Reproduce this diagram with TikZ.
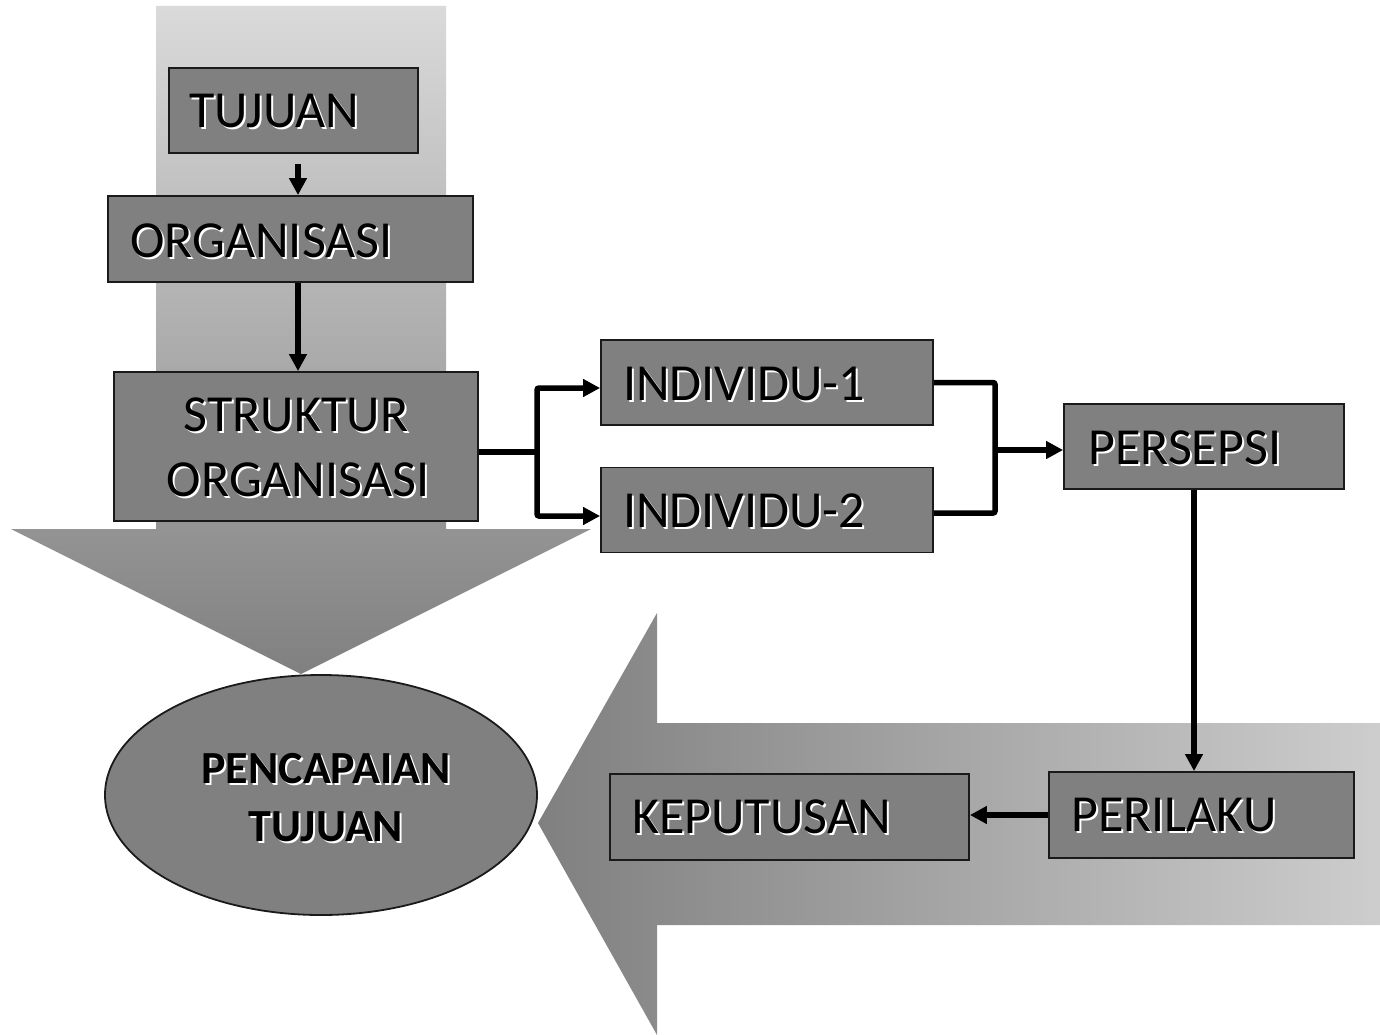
\documentclass[tikz,border=0pt]{standalone}
\usepackage{fontspec}
\setmainfont{Carlito}
\usetikzlibrary{arrows.meta,calc,shapes.geometric}
\newcommand\shd[1]{\leavevmode\rlap{\kern2pt\raisebox{-2pt}{\color{white}#1}}#1}
\definecolor{boxgray}{HTML}{808080}
\definecolor{bordergray}{HTML}{1A1A1A}
\definecolor{lightband}{HTML}{DADADA}
\definecolor{lightarrow}{HTML}{CDCDCD}
\begin{document}
\begin{tikzpicture}[x=1pt,y=-1pt,
  box/.style={draw=bordergray, line width=1.8pt, fill=boxgray, inner sep=0pt},
  lbl/.style={anchor=base west, inner sep=0pt, font=\fontsize{52}{58}\selectfont},
  lblc/.style={anchor=base, inner sep=0pt, font=\fontsize{52}{58}\selectfont},
  goallbl/.style={anchor=base, inner sep=0pt, font=\fontsize{46}{52}\selectfont\bfseries},
  conn/.style={line width=5.5pt, rounded corners=2pt, -{Triangle[length=17pt,width=17pt]}},
  plainconn/.style={line width=5.5pt, rounded corners=2pt},
]
\useasboundingbox (0,0) rectangle (1380,1035);

% background arrows
\shade[top color=lightband, bottom color=boxgray]
  (156,6) -- (446,6) -- (446,529) -- (591,529) -- (301,674) -- (11,529) -- (156,529) -- cycle;
\shade[left color=boxgray, right color=lightarrow]
  (538,823) -- (657,613) -- (657,723) -- (1380,723) -- (1380,925) -- (657,925) -- (657,1035) -- cycle;

% boxes
\node[box, minimum width=249pt, minimum height=85pt] (tuj) at (293.5,110.5) {};
\node[box, minimum width=365pt, minimum height=86pt] (org) at (290.5,239) {};
\node[box, minimum width=364pt, minimum height=149pt] (str) at (296,446.5) {};
\node[box, minimum width=332pt, minimum height=85pt] (i1) at (767,382.5) {};
\node[box, minimum width=332pt, minimum height=85pt] (i2) at (767,510) {};
\node[box, minimum width=280pt, minimum height=85pt] (pers) at (1204,446.5) {};
\node[box, minimum width=305pt, minimum height=86pt] (pril) at (1201.5,815) {};
\node[box, minimum width=359pt, minimum height=86pt] (kep) at (789.5,817) {};
\node[draw=bordergray, line width=1.8pt, fill=boxgray, ellipse, inner sep=0pt,
      minimum width=432pt, minimum height=240pt] (goal) at (321,795) {};

% labels
\node[lbl] (tujt) at (189,128) {\shd{TUJUAN}};
\node[lbl] (orgt) at (130,257) {\shd{ORGANISASI}};
\node[lblc] (strt1) at (296,431) {\shd{STRUKTUR}};
\node[lblc] (strt2) at (298,496) {\shd{ORGANISASI}};
\node[lbl] (i1t) at (623,400) {\shd{INDIVIDU-1}};
\node[lbl] (i2t) at (623,527) {\shd{INDIVIDU-2}};
\node[lbl] (perst) at (1088,464) {\shd{PERSEPSI}};
\node[lbl] (prilt) at (1071,831) {\shd{PERILAKU}};
\node[lbl] (kept) at (632,833) {\shd{KEPUTUSAN}};
\node[goallbl] (g1) at (326,783) {\shd{PENCAPAIAN}};
\node[goallbl] (g2) at (326,841) {\shd{TUJUAN}};

% connectors
\draw[conn] ([xshift=4.5pt,yshift=-10pt]tuj.south) -- ([xshift=4.5pt]tuj.south |- org.north);
\draw[conn] ([xshift=7.5pt]org.south) -- ([xshift=7.5pt]org.south |- str.north);
\coordinate (sp) at (537,452);
\draw[plainconn] ([yshift=-5.5pt]str.east) -- (sp);
\draw[conn] (sp) |- ([yshift=-5.5pt]i1.west);
\draw[conn] (sp) |- ([yshift=-6pt]i2.west);
\coordinate (mj) at (995,450);
\draw[plainconn] (i1.east) -| (mj) |- ([yshift=-3pt]i2.east);
\draw[conn] (mj) -- (mj -| pers.west);
\draw[conn] ([xshift=-10pt]pers.south) -- ([xshift=-10pt]pers.south |- pril.north);
\draw[conn] (pril.west) -- (pril.west -| kep.east);
\end{tikzpicture}
\end{document}
